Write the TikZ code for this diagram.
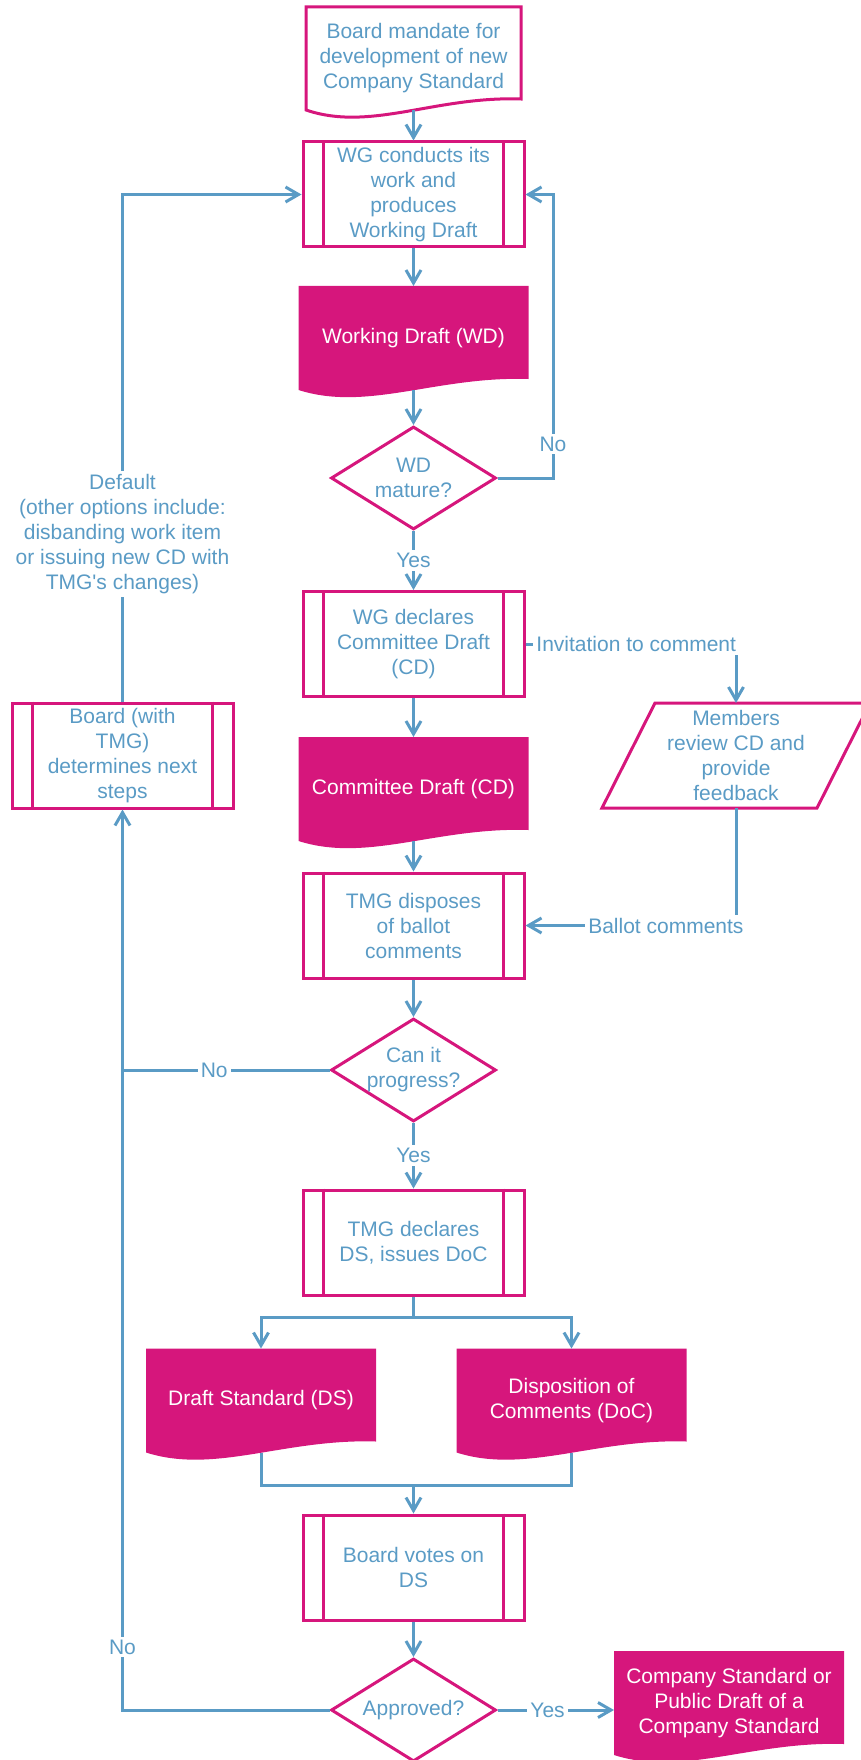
\documentclass[tikz,border=0pt]{standalone}
\usepackage{fontspec}
\setmainfont{Liberation Sans}
\usepackage{tikz}
\usetikzlibrary{
    positioning,
    arrows.meta,
    calc,
    shapes.geometric,
    backgrounds
}
\definecolor{flowBlue}{RGB}{90, 155, 197}
\definecolor{flowMagenta}{RGB}{214, 22, 124}

% document shape with a wavy lower edge, drawn from the node's corners
\newcommand{\docwave}[2]{%
  \path[#1] (#2.north west) -- (#2.north east) -- ([yshift=11pt]#2.south east)
    .. controls ($(#2.south east)!0.4!(#2.south west)+(0,14pt)$)
    and ($(#2.south east)!0.7!(#2.south west)+(0,-22pt)$) .. (#2.south west) -- cycle;}

\begin{document}
\begin{tikzpicture}[x=1pt, y=-1pt, >={Straight Barb[length=13pt,width=15pt]},
    every node/.style={font=\fontsize{21}{25}\selectfont, text=flowBlue, align=center},
    procbox/.style={draw=flowMagenta, line width=3pt, minimum width=221pt, minimum height=105pt, inner sep=2pt},
    decision/.style={diamond, draw=flowMagenta, line width=3pt, aspect=1.6,
        minimum width=165pt, minimum height=103pt, inner sep=0pt},
    docbox/.style={minimum width=230pt, minimum height=104pt, inner sep=2pt, outer sep=0pt, text=white},
    startdoc/.style={docbox, minimum width=215pt, minimum height=103pt, text=flowBlue},
    docfill/.style={fill=flowMagenta},
    docline/.style={fill=white, draw=flowMagenta, line width=3pt},
    flow/.style={draw=flowBlue, line width=3pt},
    lbl/.style={fill=white, inner sep=3pt}]

    \useasboundingbox (0,0) rectangle (861,1760);

    % main column
    \node[startdoc] (mandate) at (413.5,58.5) {Board mandate for\\development of new\\Company Standard};
    \node[procbox] (conduct) at (413.5,194.5) {WG conducts its\\work and\\produces\\Working Draft};
    \node[docbox] (wd) at (413.5,338) {Working Draft (WD)};
    \node[decision] (mature) at (413.5,478) {WD\\mature?};
    \node[procbox] (declare) at (413.5,644) {WG declares\\Committee Draft\\(CD)};
    \node[docbox] (cd) at (413.5,789) {Committee Draft (CD)};
    \node[procbox] (dispose) at (413.5,925.5) {TMG disposes\\of ballot\\comments};
    \node[decision] (progress) at (413.5,1070) {Can it\\progress?};
    \node[procbox] (tmgdecl) at (413.5,1242.5) {TMG declares\\DS, issues DoC};
    \node[docbox] (ds) at (261,1400.5) {Draft Standard (DS)};
    \node[docbox] (doc) at (571.5,1400.5) {Disposition of\\Comments (DoC)};
    \node[procbox] (vote) at (413.5,1567.5) {Board votes on\\DS};
    \node[decision] (approved) at (413.5,1710) {Approved?};
    \node[docbox] (final) at (729,1703) {Company Standard or\\Public Draft of a\\Company Standard};

    % side nodes
    \node[minimum width=162pt, minimum height=105pt, inner sep=0pt, outer sep=0pt] (members) at (736,755.5)
        {Members\\review CD and\\provide\\feedback};
    \node[procbox] (nextstep) at (122.5,755.5) {Board (with\\TMG)\\determines next\\steps};

    \draw[flowMagenta, line width=3pt] ([xshift=-53pt]members.south west) -- (members.south east)
        -- ([xshift=53pt]members.north east) -- (members.north west) -- cycle;

    \foreach \n in {conduct, declare, dispose, tmgdecl, vote, nextstep}
        \draw[flowMagenta, line width=3pt] ([xshift=22pt]\n.north west) -- ([xshift=22pt]\n.south west)
            ([xshift=-22pt]\n.north east) -- ([xshift=-22pt]\n.south east);

    \begin{scope}[on background layer]
        \docwave{docline}{mandate}
        \foreach \n in {wd, cd, ds, doc, final} {\docwave{docfill}{\n}}
    \end{scope}

    \coordinate (noturn) at (553,194.5);
    \coordinate (backturn) at (122.5,194.5);
    \coordinate (invturn) at (736,644);
    \coordinate (ballotturn) at (736,925.5);
    \coordinate (nojoin) at (122.5,1070);
    \coordinate (split) at (413.5,1317);
    \coordinate (merge) at (413.5,1485);

    \draw[flow,->] (mandate.south) -- (conduct.north);
    \draw[flow,->] (conduct.south) -- (wd.north);
    \draw[flow,->] (wd.south) -- (mature.north);
    \draw[flow,->] (mature.east) -| node[lbl, pos=0.56] {No} (noturn) -- (conduct.east);
    \draw[flow,->] (mature.south) -- node[lbl] {Yes} (declare.north);
    \draw[flow,->] (declare.east) -- node[lbl, pos=0.526] {Invitation to comment} (invturn) -- (members.north);
    \draw[flow,->] (declare.south) -- (cd.north);
    \draw[flow,->] (cd.south) -- (dispose.north);
    \draw[flow,->] (members.south) -- (ballotturn) -- node[lbl, pos=0.333] {Ballot comments} (dispose.east);
    \draw[flow,->] (dispose.south) -- (progress.north);
    \draw[flow] (progress.west) -- node[lbl, pos=0.557] {No} (nojoin);
    \draw[flow,->] (progress.south) -- node[lbl] {Yes} (tmgdecl.north);
    \draw[flow,->] (nextstep.north) -- node[lbl, pos=0.33]
        {Default\\(other options include:\\disbanding work item\\or issuing new CD with\\TMG\textquotesingle s changes)}
        (backturn) -- (conduct.west);

    % split to the two drafts and merge again
    \draw[flow,->] (tmgdecl.south) -- (split) -| (ds.north);
    \draw[flow,->] (split) -| (doc.north);
    \draw[flow] (ds.south) |- (merge) -| (doc.south);
    \draw[flow,->] (merge) -- (vote.north);

    \draw[flow,->] (vote.south) -- (approved.north);
    \draw[flow,->] (approved.east) -- node[lbl, pos=0.43] {Yes} (approved.east -| final.west);
    \draw[flow,->] (approved.west) -| node[lbl, pos=0.535] {No} (nextstep.south);
\end{tikzpicture}
\end{document}
